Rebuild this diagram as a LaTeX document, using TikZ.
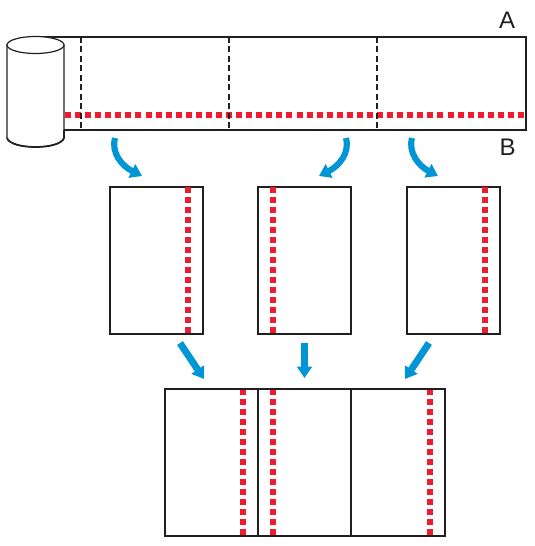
\documentclass[tikz,border=0pt]{standalone}
\usepackage{fontspec}
\setmainfont{Liberation Sans}
\usetikzlibrary{arrows.meta}
\definecolor{ink}{HTML}{231F20}
\definecolor{seam}{HTML}{ED1C2E}
\definecolor{flow}{HTML}{0096D6}
\tikzset{
  band/.style={draw=ink,line width=1.2pt,fill=white,inner sep=0pt,outer sep=0pt,anchor=north west,minimum width=367.5pt,minimum height=69.75pt},
  panel/.style={draw=ink,line width=1.5pt,fill=white,inner sep=0pt,outer sep=0pt,anchor=north west,minimum width=69.75pt,minimum height=110pt},
  sheet/.style={draw=ink,line width=1.5pt,fill=white,inner sep=0pt,outer sep=0pt,anchor=north west,minimum width=210pt,minimum height=110pt},
  divider/.style={draw=ink,line width=1.5pt},
  fold/.style={draw=ink,line width=.85pt,dash pattern=on 4.5pt off 2.6pt},
  seamline/.style={draw=seam,line width=4.5pt,dash pattern=on 4.5pt off 3pt},
  longseam/.style={draw=seam,line width=4.5pt,dash pattern=on 4.5pt off 3.05pt},
  flowarrow/.style={draw=flow,line width=4.6pt,-{Triangle[length=8.5pt,width=11pt]}},
  dropArrow/.style={draw=flow,line width=5.2pt,-{Triangle[length=8.5pt,width=11pt]}},
  letter/.style={font=\fontsize{18}{18}\selectfont,text=ink,inner sep=0pt},
  can/.style={draw=ink,line width=.9pt,fill=white},
  canbase/.style={draw=ink,line width=1.3pt}
}
\begin{document}
\begin{tikzpicture}[x=.75pt,y=-.75pt]
\useasboundingbox (0,0) rectangle (535,546);
% long web
\node[band] (web) at (36,37) {};
\draw[longseam] (65,115) -- (526,115);
\foreach \x in {81,229,377} \draw[fold] (\x,37) -- (\x,130);
% roll
\draw[can] (7,45) -- (7,138) .. controls (9,144) and (22,147) .. (35.5,147)
  .. controls (49,147) and (62,144) .. (64,138) -- (64,45) -- cycle;
\draw[can] (35.5,45) ellipse [x radius=28.5,y radius=8.5];
\draw[canbase] (7,138) .. controls (9,144) and (22,147) .. (35.5,147)
  .. controls (49,147) and (62,144) .. (64,138) -- (64,130);
% labels
\node[letter] (A) at (507,20.5) {A};
\node[letter] (B) at (507.5,147) {B};
% cut panels
\node[panel] (p1) at (110,187) {};
\node[panel] (p2) at (258,187) {};
\node[panel] (p3) at (407,187) {};
\draw[seamline] (188,187) -- (188,333);
\draw[seamline] (273,187) -- (273,333);
\draw[seamline] (485,187) -- (485,333);
% joined sheet
\node[sheet] (s) at (165,389) {};
\draw[seamline] (243,389) -- (243,536);
\draw[seamline] (273,389) -- (273,536);
\draw[seamline] (430,389) -- (430,536);
\draw[divider] (258,389) -- (258,536);
\draw[divider] (351,389) -- (351,536);
\draw[draw=ink,line width=1.5pt] (s.north west) rectangle (s.south east);
% arrows
\coordinate (a1s) at (115,138); \coordinate (a1e) at (142,176);
\coordinate (a2s) at (346,138); \coordinate (a2e) at (319,176);
\coordinate (a3s) at (412,138); \coordinate (a3e) at (438,176);
\coordinate (b1s) at (180,343); \coordinate (b1e) at (204,379);
\coordinate (b2s) at (304.5,343); \coordinate (b2e) at (304.5,378);
\coordinate (b3s) at (429,343); \coordinate (b3e) at (405,379);
\draw[flowarrow] (a1s) .. controls (111,153) and (122,166) .. (a1e);
\draw[flowarrow] (a2s) .. controls (350,153) and (339,166) .. (a2e);
\draw[flowarrow] (a3s) .. controls (408,153) and (419,166) .. (a3e);
\draw[dropArrow] (b1s) -- (b1e);
\draw[dropArrow] (b2s) -- (b2e);
\draw[dropArrow] (b3s) -- (b3e);
\end{tikzpicture}
\end{document}
